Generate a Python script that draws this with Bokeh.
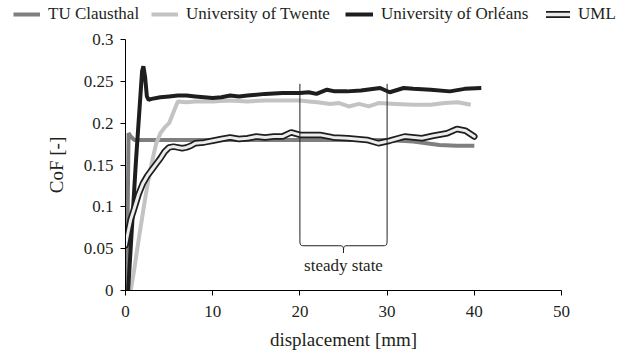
from bokeh.plotting import figure
from bokeh.models import Legend, LegendItem, FixedTicker, Label
from bokeh.embed import file_html
from bokeh.resources import INLINE

# ---- data ----
tu_x = [0.15, 0.35, 0.6, 1.0, 5, 10, 15, 20, 25, 30, 33, 36, 38, 40]
tu_y = [0.0, 0.188, 0.184, 0.180, 0.180, 0.180, 0.180, 0.180, 0.180, 0.180, 0.178, 0.174, 0.173, 0.173]

tw_x = [0.6, 1.0, 1.5, 2.1, 2.5, 3.0, 3.5, 4.0, 4.5, 5.0, 5.5, 6.0, 7, 8, 10, 12, 14, 16, 18, 20,
        21, 22, 23.5, 24.5, 25.6, 26.8, 27.9, 29, 31, 33, 35, 36.6, 38.1, 39.6]
tw_y = [0.0, 0.025, 0.06, 0.10, 0.125, 0.152, 0.175, 0.188, 0.195, 0.200, 0.213, 0.226, 0.225, 0.226,
        0.226, 0.227, 0.226, 0.227, 0.227, 0.227, 0.226, 0.225, 0.223, 0.224, 0.220, 0.223, 0.220,
        0.224, 0.223, 0.222, 0.222, 0.224, 0.225, 0.222]

or_x = [0.3, 1.2, 1.9, 2.05, 2.25, 2.45, 2.65, 3, 4, 5, 6, 7, 8, 9, 10, 11, 12, 13, 14, 16, 18, 20,
        21, 21.9, 23.1, 24, 25.4, 27, 29.2, 30.3, 31.9, 33, 35, 37.2, 38.9, 40.8]
or_y = [0.0, 0.155, 0.262, 0.268, 0.255, 0.232, 0.228, 0.229, 0.231, 0.232, 0.233, 0.233, 0.232,
        0.231, 0.230, 0.231, 0.233, 0.232, 0.233, 0.235, 0.236, 0.236, 0.237, 0.235, 0.240, 0.238,
        0.238, 0.239, 0.242, 0.237, 0.242, 0.241, 0.240, 0.238, 0.241, 0.242]

uml_x = [0, 0.3, 0.6, 1.0, 1.5, 2.0, 2.5, 3.0, 3.5, 4.0, 4.5, 5.0, 5.5, 6.0, 6.5, 7.0, 7.5, 8.0, 9,
         10, 11, 12, 13, 14, 15, 16, 17, 18, 19, 20, 22.3, 23.8, 25.5, 27.7, 29, 30.3, 32, 34, 35.3,
         36.9, 38, 39, 40]
uml_y = [0.054, 0.07, 0.085, 0.098, 0.115, 0.128, 0.137, 0.144, 0.151, 0.158, 0.166, 0.171, 0.172,
         0.171, 0.170, 0.171, 0.173, 0.176, 0.177, 0.179, 0.181, 0.183, 0.181, 0.182, 0.184, 0.183,
         0.184, 0.184, 0.189, 0.186, 0.186, 0.183, 0.182, 0.180, 0.176, 0.179, 0.184, 0.182, 0.185,
         0.188, 0.193, 0.191, 0.184]

series_names = ["TU Clausthal", "University of Twente", "University of Orléans", "UML"]

x_ticks = [0, 10, 20, 30, 40, 50]
y_ticks = [0, 0.05, 0.1, 0.15, 0.2, 0.25, 0.3]
y_tick_labels = ["0", "0.05", "0.1", "0.15", "0.2", "0.25", "0.3"]

steady_start, steady_end = 20, 30
steady_top = 0.247
steady_label = "steady state"

FONT = "Liberation Serif"
TXT = "#231f20"
C_TU, C_TW, C_OR, C_UML_IN = "#7f7f7f", "#c3c3c3", "#1e1e1e", "#ececec"

p = figure(width=630, height=322, x_range=(0, 50), y_range=(0, 0.3),
           output_backend="svg", toolbar_location=None,
           min_border_left=125, min_border_right=69, min_border_top=9, min_border_bottom=62)
p.outline_line_color = None
p.grid.visible = False

for ax in (p.xaxis[0], p.yaxis[0]):
    ax.axis_line_color = "black"
    ax.major_tick_line_color = "black"
    ax.minor_tick_line_color = None
    ax.major_tick_in = 0
    ax.major_tick_out = 5
    ax.major_label_text_font = FONT
    ax.major_label_text_font_size = "17px"
    ax.major_label_text_color = TXT
    ax.axis_label_text_font = FONT
    ax.axis_label_text_font_size = "19px"
    ax.axis_label_text_font_style = "normal"
    ax.axis_label_text_color = TXT

p.xaxis.ticker = FixedTicker(ticks=x_ticks)
p.yaxis.ticker = FixedTicker(ticks=y_ticks)
p.yaxis.major_label_overrides = {t: l for t, l in zip(y_ticks, y_tick_labels)}
p.xaxis.axis_label = "displacement [mm]"
p.yaxis.axis_label = "CoF [-]"
p.xaxis.axis_label_standoff = 9
p.yaxis.axis_label_standoff = 14
p.xaxis.major_label_standoff = 10
p.yaxis.major_label_standoff = 7

p.line(tu_x, tu_y, line_color=C_TU, line_width=4)
p.line(tw_x, tw_y, line_color=C_TW, line_width=4)
p.line(or_x, or_y, line_color=C_OR, line_width=4)
p.line(uml_x, uml_y, line_color=C_OR, line_width=6.5, line_cap="round")
p.line(uml_x, uml_y, line_color=C_UML_IN, line_width=3, line_cap="round")

# steady-state bracket
bot = 0.062
mid = 0.0535
tip = 0.045
ctr = (steady_start + steady_end) / 2
lc = dict(line_color="#231f20", line_width=1)
p.segment([steady_start, steady_end], [steady_top, steady_top], [steady_start, steady_end], [bot, bot], **lc)
p.bezier(x0=[steady_start, steady_end], y0=[bot, bot],
         x1=[steady_start + 0.7, steady_end - 0.7], y1=[mid, mid],
         cx0=[steady_start, steady_end], cy0=[mid, mid],
         cx1=[steady_start, steady_end], cy1=[mid, mid], **lc)
p.segment([steady_start + 0.7, ctr + 0.6], [mid, mid], [ctr - 0.6, steady_end - 0.7], [mid, mid], **lc)
p.bezier(x0=[ctr - 0.6, ctr + 0.6], y0=[mid, mid], x1=[ctr, ctr], y1=[tip, tip],
         cx0=[ctr, ctr], cy0=[mid, mid], cx1=[ctr, ctr], cy1=[mid, mid], **lc)
p.add_layout(Label(x=ctr, y=0.030, text=steady_label, text_align="center", text_baseline="middle",
                   text_font=FONT, text_font_size="17px", text_color=TXT))

# legend strip on top (separate root so its frame spans the full width)
lg = figure(width=630, height=30, x_range=(0, 1), y_range=(0, 1), output_backend="svg",
            toolbar_location=None, x_axis_type=None, y_axis_type=None,
            min_border_left=0, min_border_right=0, min_border_top=0, min_border_bottom=0)
lg.outline_line_color = None
lg.grid.visible = False
off = [5, 6]
l_tu = lg.line(off, off, line_color=C_TU, line_width=4)
l_tw = lg.line(off, off, line_color=C_TW, line_width=4)
l_or = lg.line(off, off, line_color=C_OR, line_width=4)
l_u1 = lg.line(off, off, line_color=C_OR, line_width=7, line_cap="round")
l_u2 = lg.line(off, off, line_color=C_UML_IN, line_width=3.5, line_cap="round")

leg_specs = [(series_names[0], [l_tu], 13, 27),
             (series_names[1], [l_tw], 151, 27),
             (series_names[2], [l_or], 345, 28),
             (series_names[3], [l_u1, l_u2], 546, 24)]
for name, rends, lx, gw in leg_specs:
    lgd = Legend(items=[LegendItem(label=name, renderers=rends)], location=(lx, 6))
    lgd.label_text_font = FONT
    lgd.label_text_font_size = "17px"
    lgd.label_text_color = TXT
    lgd.glyph_width = gw
    lgd.glyph_height = 18
    lgd.label_standoff = 8
    lgd.padding = 0
    lgd.margin = 0
    lgd.border_line_color = None
    lgd.background_fill_alpha = 0
    lg.add_layout(lgd, "center")

open("out.html", "w").write(file_html([lg, p], INLINE))
